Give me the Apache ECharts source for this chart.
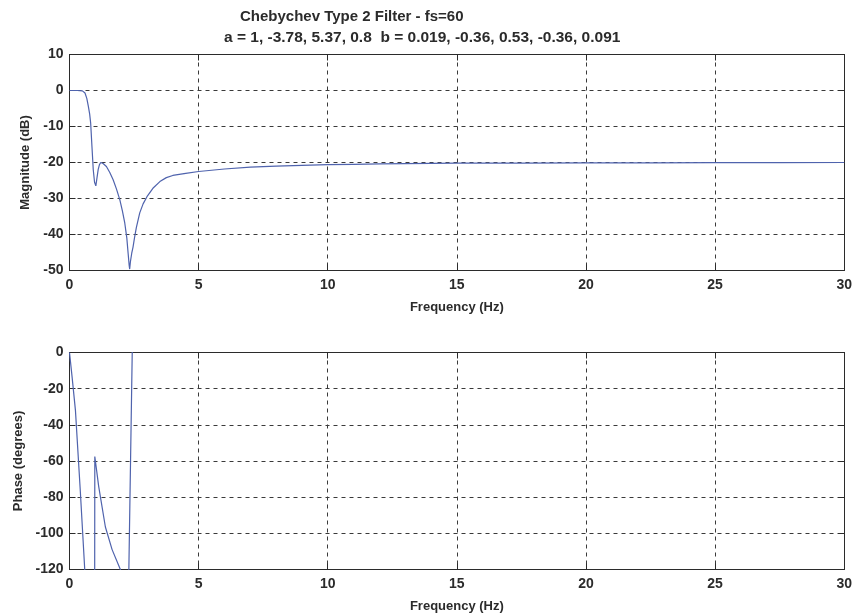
<!DOCTYPE html>
<html>
<head>
<meta charset="utf-8">
<script src="https://cdn.jsdelivr.net/npm/echarts@6/dist/echarts.min.js"></script>
<style>
  html, body { margin: 0; padding: 0; background: #fff; }
  #chart { width: 855px; height: 616px; }
</style>
</head>
<body>
<div id="chart"></div>
<script>
// Chebychev type 2 filter response, fs = 60 Hz
const titleLines = [
  'Chebychev Type 2 Filter - fs=60',
  'a = 1, -3.78, 5.37, 0.8  b = 0.019, -0.36, 0.53, -0.36, 0.091'
];

// Magnitude response (dB) vs frequency (Hz)
const magFreq = [0, 0.3, 0.5, 0.6, 0.67, 0.73, 0.78, 0.82, 0.87, 0.92, 0.97, 1.02, 1.06, 1.11, 1.16,
  1.21, 1.3, 1.43, 1.56, 1.69, 1.82, 1.95, 2.05, 2.14, 2.22, 2.27, 2.31, 2.33, 2.36, 2.41, 2.46,
  2.52, 2.59, 2.72, 2.85, 3.0, 3.25, 3.5, 3.75, 4.0, 4.5, 5, 6, 7, 8, 9, 10, 11, 12, 13, 14, 15,
  17.5, 20, 22.5, 25, 27.5, 30];
const magDb = [0, 0, -0.1, -0.7, -2.2, -4.4, -6.5, -9.1, -15.6, -22, -25.5, -26.5, -24.5, -22, -20.6,
  -20, -20.3, -21.1, -22.8, -24.8, -27.4, -30.4, -33.5, -36.8, -41, -45.2, -48.5, -49.6, -47.5, -45.2, -43.5,
  -40.8, -38, -34, -31.5, -29.5, -27, -25.3, -24.2, -23.6, -23, -22.5, -21.8, -21.3, -21, -20.8, -20.6, -20.5, -20.4, -20.3, -20.25, -20.2,
  -20.15, -20.1, -20.08, -20.05, -20.03, -20];

// Phase response (degrees) vs frequency (Hz); values outside the axis range are clipped
const phaseFreq = [0, 0.1, 0.23, 0.42, 0.59, 0.8, 0.97, 0.98, 1.13, 1.39, 1.65, 1.97, 2.15, 2.28, 2.44];
const phaseDeg = [0, -13.5, -32, -77, -120, -160, -190, -57.5, -74, -96.5, -109, -120, -130, -137, 10];

const xTicks = { min: 0, max: 30, interval: 5 };
const magTicks = { min: -50, max: 10, interval: 10 };
const phaseTicks = { min: -120, max: 0, interval: 20 };

const ink = '#2b2b2b';
const gridInk = '#3a3a3a';
const curve = '#4f63ad';
const font = '"Liberation Sans", Arial, sans-serif';

function pairs(xs, ys) { return xs.map((x, i) => [x, ys[i]]); }

const frame = { show: true, onZero: false, lineStyle: { color: ink, width: 1 } };
const innerTick = { show: true, inside: true, length: 6, lineStyle: { color: ink } };
const dashed = { show: true, lineStyle: { color: gridInk, type: [4, 4], width: 1 } };
const labelStyle = { color: ink, fontFamily: font, fontWeight: 'bold', fontSize: 14 };
const nameStyle = { color: ink, fontFamily: font, fontWeight: 'bold', fontSize: 13 };

function mainX(gridIndex, ticks) {
  return {
    type: 'value', gridIndex, min: ticks.min, max: ticks.max, interval: ticks.interval,
    name: 'Frequency (Hz)', nameLocation: 'middle', nameGap: 30, nameTextStyle: nameStyle,
    axisLine: frame, axisTick: innerTick,
    axisLabel: Object.assign({ margin: 8 }, labelStyle),
    splitLine: dashed
  };
}
function mirrorX(gridIndex, ticks) {
  return {
    type: 'value', gridIndex, position: 'top', min: ticks.min, max: ticks.max, interval: ticks.interval,
    axisLine: frame, axisTick: innerTick, axisLabel: { show: false }, splitLine: { show: false }
  };
}
function mainY(gridIndex, ticks, name, gap) {
  return {
    type: 'value', gridIndex, min: ticks.min, max: ticks.max, interval: ticks.interval,
    name, nameLocation: 'middle', nameGap: gap, nameTextStyle: nameStyle,
    axisLine: frame, axisTick: innerTick,
    axisLabel: Object.assign({ margin: 6 }, labelStyle),
    splitLine: dashed
  };
}
function mirrorY(gridIndex, ticks) {
  return {
    type: 'value', gridIndex, position: 'right', min: ticks.min, max: ticks.max, interval: ticks.interval,
    axisLine: frame, axisTick: innerTick, axisLabel: { show: false }, splitLine: { show: false }
  };
}

const chart = echarts.init(document.getElementById('chart'), null, { renderer: 'canvas' });
chart.setOption({
  backgroundColor: '#ffffff',
  animation: false,
  graphic: [
    { type: 'text', left: 240, top: 9,
      style: { text: titleLines[0], fill: ink, font: 'bold 15px ' + font } },
    { type: 'text', left: 224, top: 30,
      style: { text: titleLines[1], fill: ink, font: 'bold 15.5px ' + font } }
  ],
  grid: [
    { left: 69.5, top: 54.5, width: 777.5, height: 216 },
    { left: 69.5, top: 352.5, width: 777.5, height: 217 }
  ],
  xAxis: [mainX(0, xTicks), mainX(1, xTicks), mirrorX(0, xTicks), mirrorX(1, xTicks)],
  yAxis: [
    mainY(0, magTicks, 'Magnitude (dB)', 38),
    mainY(1, phaseTicks, 'Phase (degrees)', 42),
    mirrorY(0, magTicks), mirrorY(1, phaseTicks)
  ],
  series: [
    { type: 'line', xAxisIndex: 0, yAxisIndex: 0, data: pairs(magFreq, magDb),
      showSymbol: false, smooth: false, clip: true,
      lineStyle: { color: curve, width: 1.2 } },
    { type: 'line', xAxisIndex: 1, yAxisIndex: 1, data: pairs(phaseFreq, phaseDeg),
      showSymbol: false, smooth: false, clip: true,
      lineStyle: { color: curve, width: 1.2 } }
  ]
});
</script>
</body>
</html>
